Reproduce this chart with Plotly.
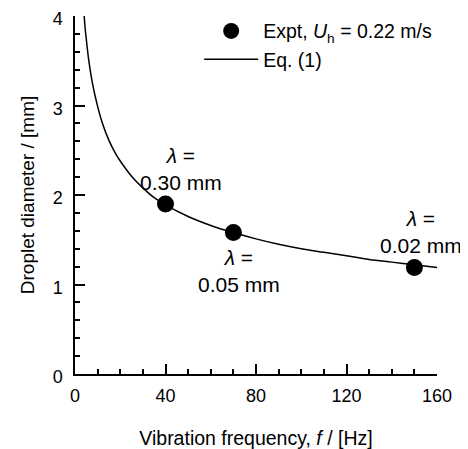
import plotly.graph_objects as go

expt_f = [40, 70, 150]
expt_d = [1.90, 1.58, 1.19]

# Eq. (1) curve
eq_f = [3.9, 4.5, 5, 6, 7, 8, 10, 12, 15, 18, 20, 25, 30, 35, 40, 50, 60, 70, 80, 90, 100, 110, 120, 130, 140, 150, 160]
eq_d = [4.05, 3.86, 3.74, 3.52, 3.35, 3.21, 2.99, 2.81, 2.61, 2.46, 2.38, 2.21, 2.08, 1.97, 1.89, 1.76, 1.66, 1.58, 1.51, 1.45, 1.40, 1.36, 1.32, 1.28, 1.25, 1.22, 1.19]

# Lambda labels
lab_f = [47, 72.7, 153]
lab_d = [2.29, 1.15, 1.59]
lab_text = ["<i>λ</i> =<br>0.30 mm", "<i>λ</i> =<br>0.05 mm", "<i>λ</i> =<br>0.02 mm"]

FONT = "Liberation Sans, Arial, Helvetica, sans-serif"
FS_TICK = 18
FS_TITLE = 19.5
FS_ANN = 21
FS_LEG = 19.5

fig = go.Figure()
fig.add_trace(go.Scatter(
    x=expt_f, y=expt_d, mode="markers",
    marker=dict(color="black", size=17),
    name="Expt, <i>U</i><sub>h</sub> = 0.22 m/s",
    cliponaxis=False,
))
fig.add_trace(go.Scatter(
    x=eq_f, y=eq_d, mode="lines", line=dict(color="black", width=1.5, shape="spline"),
    name="Eq. (1)",
))

for f, d, t in zip(lab_f, lab_d, lab_text):
    fig.add_annotation(x=f, y=d, text=t, showarrow=False,
                       font=dict(family=FONT, size=FS_ANN, color="black"), align="center")

axis_common = dict(
    showline=True, linecolor="black", linewidth=1.5, mirror=False,
    showgrid=False, zeroline=False, automargin=False,
    ticks="inside", ticklen=10, tickwidth=1.5, tickcolor="black",
    tickfont=dict(family=FONT, size=FS_TICK, color="black"),
    ticklabeloverflow="allow",
)

fig.update_xaxes(
    range=[0, 160], tickvals=[0, 40, 80, 120, 160], ticklabelstandoff=5,
    minor=dict(dtick=10, ticklen=5, tickwidth=1.5, tickcolor="black", ticks="inside"),
    title=dict(text="Vibration frequency, <i>f</i> / [Hz]", font=dict(family=FONT, size=FS_TITLE, color="black"), standoff=26),
    **axis_common,
)
fig.update_yaxes(
    range=[0, 4], tickvals=[0, 1, 2, 3, 4], ticklabelstandoff=7, ticklabelshift=3,
    minor=dict(dtick=0.2, ticklen=5, tickwidth=1.5, tickcolor="black", ticks="inside"),
    title=dict(text="Droplet diameter / [mm]", font=dict(family=FONT, size=19, color="black"), standoff=13),
    **axis_common,
)

fig.update_layout(
    width=468, height=449,
    margin=dict(l=67, r=39, t=4, b=83),
    plot_bgcolor="white", paper_bgcolor="white",
    font=dict(family=FONT, size=FS_TICK, color="black"),
    legend=dict(x=0.343, y=1.012, xanchor="left", yanchor="top",
                bgcolor="rgba(0,0,0,0)", font=dict(family=FONT, size=FS_LEG, color="black"),
                tracegroupgap=0, itemwidth=54),
    showlegend=True,
)

fig.write_html("out.html")
